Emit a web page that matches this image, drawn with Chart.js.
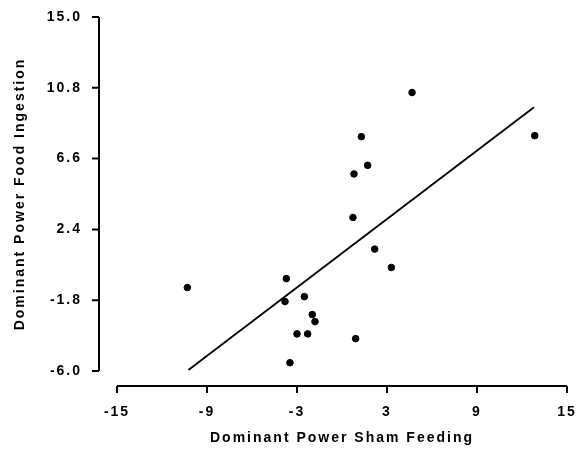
<!DOCTYPE html>
<html lang="en">
<head>
<meta charset="UTF-8">
<title>Dominant Power: Sham Feeding vs Food Ingestion</title>
<script src="https://cdn.jsdelivr.net/npm/chart.js"></script>
<style>
  body { margin: 0; background: #fff; }
</style>
</head>
<body>
<canvas id="chart" width="588" height="452"></canvas>
<script>
const shamFeeding   = [-10.31, -3.71, -3.80, -2.51, -1.98, -1.80, -3.00, -2.29, -3.47, 0.91, 2.18, 3.29, 4.67, 1.29, 1.71, 0.80, 0.73, 12.85];
const foodIngestion = [-1.05, -0.52, -1.88, -1.59, -2.65, -3.07, -3.80, -3.80, -5.51, -4.08, 1.23, 0.14, 10.52, 7.90, 6.20, 5.69, 3.11, 7.96];

// regression line end points
const fitX = [-10.24, 12.8];
const fitY = [-5.94, 9.65];

const xTicks = [-15, -9, -3, 3, 9, 15];
const yTicks = [-6.0, -1.8, 2.4, 6.6, 10.8, 15.0];

const labelFont = { family: 'Liberation Sans, Arial, sans-serif', size: 14, weight: 'bold' };

// spaced lettering like the old typeset figure
const spacing = {
  id: 'spacing',
  beforeUpdate(chart) { chart.ctx.letterSpacing = '2px'; },
  beforeDraw(chart) { chart.ctx.letterSpacing = '2px'; }
};

// detached axis lines with outward ticks
const axes = {
  id: 'axes',
  afterDraw(chart) {
    const { ctx, chartArea, scales } = chart;
    const ax = chartArea.left - 18;
    const ay = chartArea.bottom + 15;
    ctx.save();
    ctx.strokeStyle = '#000';
    ctx.lineWidth = 2;
    ctx.beginPath();
    ctx.moveTo(ax, scales.y.getPixelForValue(yTicks[yTicks.length - 1]));
    ctx.lineTo(ax, scales.y.getPixelForValue(yTicks[0]));
    yTicks.forEach(v => {
      const py = scales.y.getPixelForValue(v);
      ctx.moveTo(ax, py);
      ctx.lineTo(ax - 7, py);
    });
    ctx.moveTo(scales.x.getPixelForValue(xTicks[0]), ay);
    ctx.lineTo(scales.x.getPixelForValue(xTicks[xTicks.length - 1]), ay);
    xTicks.forEach(v => {
      const px = scales.x.getPixelForValue(v);
      ctx.moveTo(px, ay);
      ctx.lineTo(px, ay + 7);
    });
    ctx.stroke();
    ctx.restore();
  }
};

const points = shamFeeding.map((x, i) => ({ x: x, y: foodIngestion[i] }));
const fitLine = fitX.map((x, i) => ({ x: x, y: fitY[i] }));

new Chart(document.getElementById('chart'), {
  type: 'scatter',
  data: {
    datasets: [
      {
        data: points,
        backgroundColor: '#000',
        borderColor: '#000',
        pointRadius: 3.3,
        pointHoverRadius: 3.3
      },
      {
        type: 'line',
        data: fitLine,
        borderColor: '#000',
        borderWidth: 1.8,
        pointRadius: 0,
        fill: false
      }
    ]
  },
  options: {
    responsive: false,
    animation: false,
    events: [],
    layout: { padding: { top: 17, right: 21, bottom: 0, left: 0 }, autoPadding: false },
    plugins: { legend: { display: false }, tooltip: { enabled: false } },
    scales: {
      x: {
        type: 'linear',
        min: -15,
        max: 15,
        afterBuildTicks: s => { s.ticks = xTicks.map(v => ({ value: v })); },
        afterFit: s => { s.height = 81; },
        grid: { display: false, drawTicks: true, tickLength: 33 },
        border: { display: false },
        ticks: {
          color: '#000',
          font: labelFont,
          padding: 0,
          maxRotation: 0,
          autoSkip: false,
          callback: v => String(v)
        },
        title: {
          display: true,
          text: 'Dominant Power Sham Feeding',
          color: '#000',
          font: labelFont,
          padding: { top: 0, bottom: 5 }
        }
      },
      y: {
        type: 'linear',
        min: -6,
        max: 15,
        afterBuildTicks: s => { s.ticks = yTicks.map(v => ({ value: v })); },
        afterFit: s => { s.width = 117; },
        grid: { display: false, drawTicks: true, tickLength: 35 },
        border: { display: false },
        ticks: {
          color: '#000',
          font: labelFont,
          padding: 0,
          autoSkip: false,
          callback: v => v.toFixed(1)
        },
        title: {
          display: true,
          text: 'Dominant Power Food Ingestion',
          color: '#000',
          font: labelFont,
          padding: { top: 12, bottom: 0 }
        }
      }
    }
  },
  plugins: [spacing, axes]
});
</script>
</body>
</html>
